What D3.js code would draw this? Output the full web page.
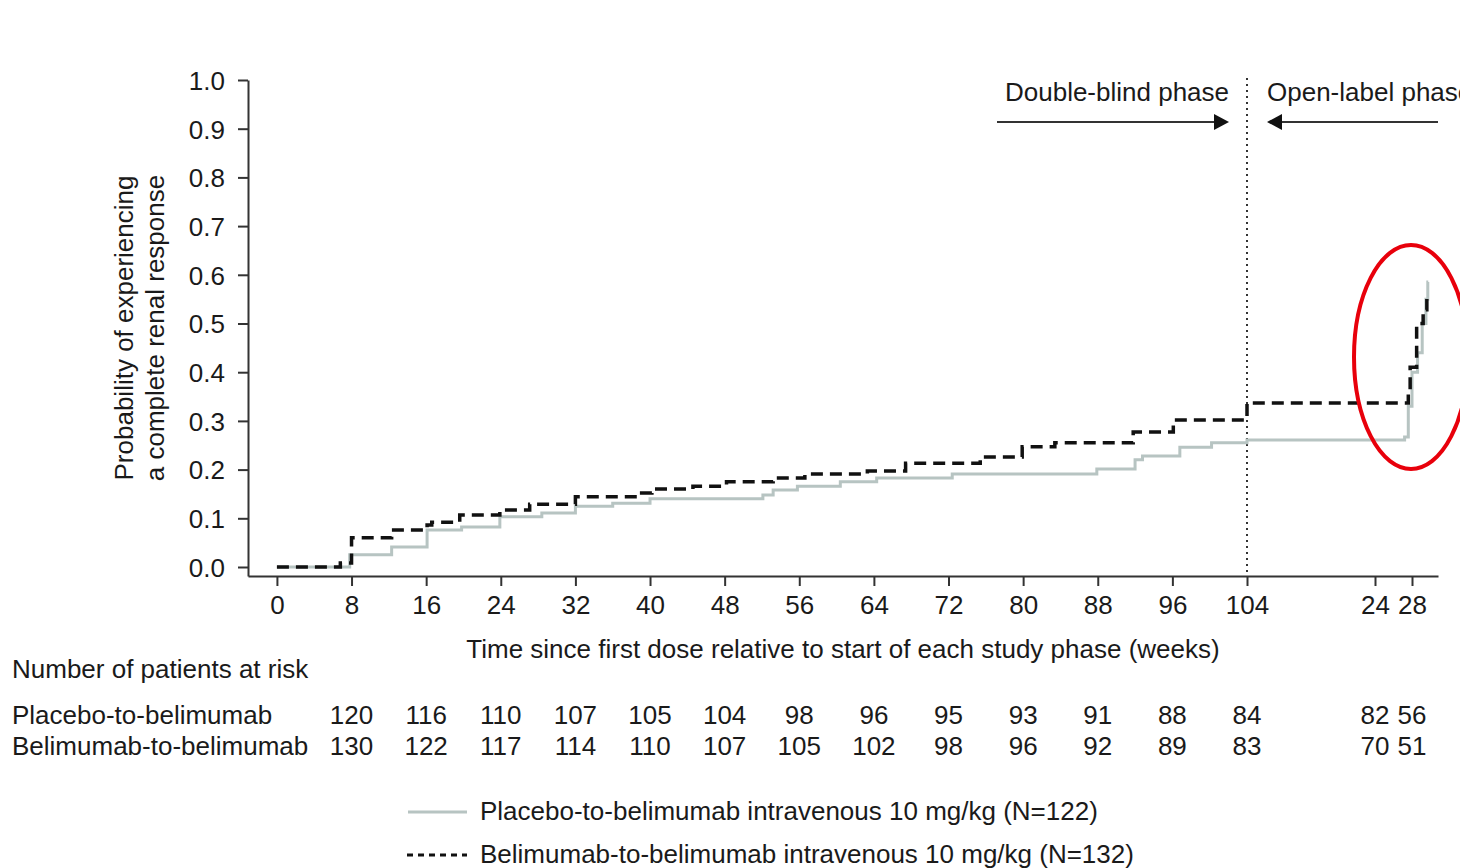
<!DOCTYPE html>
<html>
<head>
<meta charset="utf-8">
<script src="https://cdn.jsdelivr.net/npm/d3@7"></script>
<style>
  body { margin: 0; background: #fff; }
  svg text { font-family: "Liberation Sans", Arial, sans-serif; fill: #1a1a1a; }
</style>
</head>
<body>
<div class="osvg"></div>
<script>
// x ticks (double-blind weeks, then open-label weeks)
var dbTicks = [0, 8, 16, 24, 32, 40, 48, 56, 64, 72, 80, 88, 96, 104];
var olTicks = [24, 28];

// step curves: double-blind part (weeks 0-104) and open-label part (OL weeks)
var placeboDbTime = [0, 7.8, 12.3, 16.1, 19.8, 23.9, 28.4, 32.0, 36.0, 40.0, 52.1, 53.2, 55.8, 60.4, 64.3, 72.4, 87.9, 92.0, 92.8, 96.8, 100.2, 104];
var placeboDbProb = [0, 0.025, 0.041, 0.076, 0.082, 0.103, 0.111, 0.125, 0.131, 0.140, 0.148, 0.158, 0.166, 0.175, 0.183, 0.191, 0.201, 0.220, 0.228, 0.246, 0.255, 0.261];
var placeboOlTime = [27.2, 27.6, 28.0, 28.6, 29.1, 29.5, 29.7];
var placeboOlProb = [0.267, 0.33, 0.40, 0.44, 0.50, 0.55, 0.585];

var belimDbTime = [0, 6.8, 8.0, 12.3, 16.1, 16.6, 19.6, 23.9, 27.1, 32.0, 38.7, 40.2, 44.6, 48.2, 53.2, 56.6, 63.3, 67.4, 75.4, 79.9, 83.4, 91.8, 96.1, 104];
var belimDbProb = [0, 0.008, 0.06, 0.076, 0.086, 0.092, 0.107, 0.117, 0.129, 0.144, 0.152, 0.16, 0.166, 0.175, 0.183, 0.191, 0.197, 0.213, 0.226, 0.247, 0.255, 0.277, 0.302, 0.337];
var belimOlTime = [27.6, 27.8, 28.5, 29.2, 29.6];
var belimOlProb = [0.36, 0.41, 0.50, 0.528, 0.56];

// patients at risk, at weeks 8..104 then OL 24, 28
var riskDbWeeks = [8, 16, 24, 32, 40, 48, 56, 64, 72, 80, 88, 96, 104];
var riskOlWeeks = [24, 28];
var riskPlacebo = [120, 116, 110, 107, 105, 104, 98, 96, 95, 93, 91, 88, 84, 82, 56];
var riskBelim = [130, 122, 117, 114, 110, 107, 105, 102, 98, 96, 92, 89, 83, 70, 51];

var W = 1460, H = 868;
var FS = 26;

var svg = d3.select('.osvg').append('svg')
    .attr('width', W)
    .attr('height', H);

svg.append('rect').attr('width', W).attr('height', H).attr('fill', '#fff');

// open-label week w is placed at 104 + w on a broken axis
var OL0 = 104;
var x = d3.scaleLinear()
    .domain([-3.1, 104, OL0 + 24, OL0 + 28, OL0 + 30.8])
    .range([248, 1247, 1375, 1412, 1438]);

var y = d3.scaleLinear()
    .domain([-9 / 487, 1])
    .range([576, 80]);

function series(dbT, dbP, olT, olP, endT) {
    var pts = dbT.map(function (t, i) { return { t: t, p: dbP[i] }; });
    olT.forEach(function (t, i) { pts.push({ t: OL0 + t, p: olP[i] }); });
    pts.push({ t: OL0 + endT, p: pts[pts.length - 1].p });
    return pts;
}

var placebo = series(placeboDbTime, placeboDbProb, placeboOlTime, placeboOlProb, 29.75);
var belim = series(belimDbTime, belimDbProb, belimOlTime, belimOlProb, 29.7);

var line = d3.line()
    .curve(d3.curveStepAfter)
    .x(function (d) { return x(d.t); })
    .y(function (d) { return y(d.p); });

// axes
var xTickVals = dbTicks.concat(olTicks.map(function (w) { return OL0 + w; }));
var xAxis = svg.append('g')
    .attr('transform', 'translate(0,576)')
    .call(d3.axisBottom(x)
        .tickValues(xTickVals)
        .tickSize(10)
        .tickSizeOuter(0)
        .tickPadding(10)
        .tickFormat(function (d) { return d > 104 ? d - OL0 : d; }));

var yAxis = svg.append('g')
    .attr('transform', 'translate(248,0)')
    .call(d3.axisLeft(y)
        .tickValues(d3.range(0, 11).map(function (i) { return i / 10; }))
        .tickSize(10)
        .tickSizeOuter(0)
        .tickPadding(13)
        .tickFormat(d3.format('.1f')));

svg.selectAll('.tick text')
    .style('font-size', FS + 'px')
    .attr('fill', '#1a1a1a');
svg.selectAll('.domain, .tick line')
    .attr('stroke', '#333')
    .attr('stroke-width', 2);
yAxis.selectAll('.tick text').attr('dy', '0.36em');

// axis titles
svg.append('text')
    .attr('x', 843).attr('y', 658)
    .attr('text-anchor', 'middle')
    .style('font-size', FS + 'px')
    .text('Time since first dose relative to start of each study phase (weeks)');

var yt = svg.append('text')
    .attr('transform', 'translate(133,328) rotate(-90)')
    .attr('text-anchor', 'middle')
    .style('font-size', FS + 'px');
yt.append('tspan').attr('x', 0).attr('dy', 0).text('Probability of experiencing');
yt.append('tspan').attr('x', 0).attr('dy', 31).text('a complete renal response');

// phase divider and annotations
svg.append('line')
    .attr('x1', x(104)).attr('x2', x(104))
    .attr('y1', 78).attr('y2', 576)
    .attr('stroke', '#333')
    .attr('stroke-width', 2)
    .attr('stroke-dasharray', '2,4');

svg.append('text')
    .attr('x', 1117).attr('y', 101)
    .attr('text-anchor', 'middle')
    .style('font-size', FS + 'px')
    .text('Double-blind phase');
svg.append('text')
    .attr('x', 1267).attr('y', 101)
    .style('font-size', FS + 'px')
    .text('Open-label phase');

svg.append('line')
    .attr('x1', 997).attr('x2', 1216).attr('y1', 122).attr('y2', 122)
    .attr('stroke', '#333').attr('stroke-width', 2);
svg.append('path')
    .attr('d', 'M1229,122 L1214,114 L1214,130 Z')
    .attr('fill', '#111');
svg.append('line')
    .attr('x1', 1280).attr('x2', 1438).attr('y1', 122).attr('y2', 122)
    .attr('stroke', '#333').attr('stroke-width', 2);
svg.append('path')
    .attr('d', 'M1267,122 L1282,114 L1282,130 Z')
    .attr('fill', '#111');

// curves
svg.append('path')
    .datum(placebo)
    .attr('d', line)
    .attr('fill', 'none')
    .attr('stroke', '#b7c4c2')
    .attr('stroke-width', 3);

svg.append('path')
    .datum(belim)
    .attr('d', line)
    .attr('fill', 'none')
    .attr('stroke', '#111')
    .attr('stroke-width', 3.5)
    .attr('stroke-dasharray', '12,7');

// highlight ellipse
svg.append('ellipse')
    .attr('cx', 1411).attr('cy', 357)
    .attr('rx', 57).attr('ry', 112)
    .attr('fill', 'none')
    .attr('stroke', '#e8000b')
    .attr('stroke-width', 4);

// number at risk table
svg.append('text')
    .attr('x', 12).attr('y', 678)
    .style('font-size', FS + 'px')
    .text('Number of patients at risk');

var riskX = riskDbWeeks.concat(riskOlWeeks.map(function (w) { return OL0 + w; }));
var rows = [
    { name: 'Placebo-to-belimumab', vals: riskPlacebo, y: 724 },
    { name: 'Belimumab-to-belimumab', vals: riskBelim, y: 755 }
];
rows.forEach(function (r) {
    svg.append('text')
        .attr('x', 12).attr('y', r.y)
        .style('font-size', FS + 'px')
        .text(r.name);
    svg.append('g').selectAll('text')
        .data(r.vals)
        .enter().append('text')
        .attr('x', function (d, i) { return x(riskX[i]); })
        .attr('y', r.y)
        .attr('text-anchor', 'middle')
        .style('font-size', FS + 'px')
        .text(function (d) { return d; });
});

// legend
svg.append('line')
    .attr('x1', 408).attr('x2', 467).attr('y1', 812).attr('y2', 812)
    .attr('stroke', '#b7c4c2').attr('stroke-width', 3);
svg.append('text')
    .attr('x', 480).attr('y', 820)
    .style('font-size', FS + 'px')
    .text('Placebo-to-belimumab intravenous 10 mg/kg (N=122)');
svg.append('line')
    .attr('x1', 407).attr('x2', 467).attr('y1', 855).attr('y2', 855)
    .attr('stroke', '#111').attr('stroke-width', 3)
    .attr('stroke-dasharray', '6,5');
svg.append('text')
    .attr('x', 480).attr('y', 863)
    .style('font-size', FS + 'px')
    .text('Belimumab-to-belimumab intravenous 10 mg/kg (N=132)');
</script>
</body>
</html>
